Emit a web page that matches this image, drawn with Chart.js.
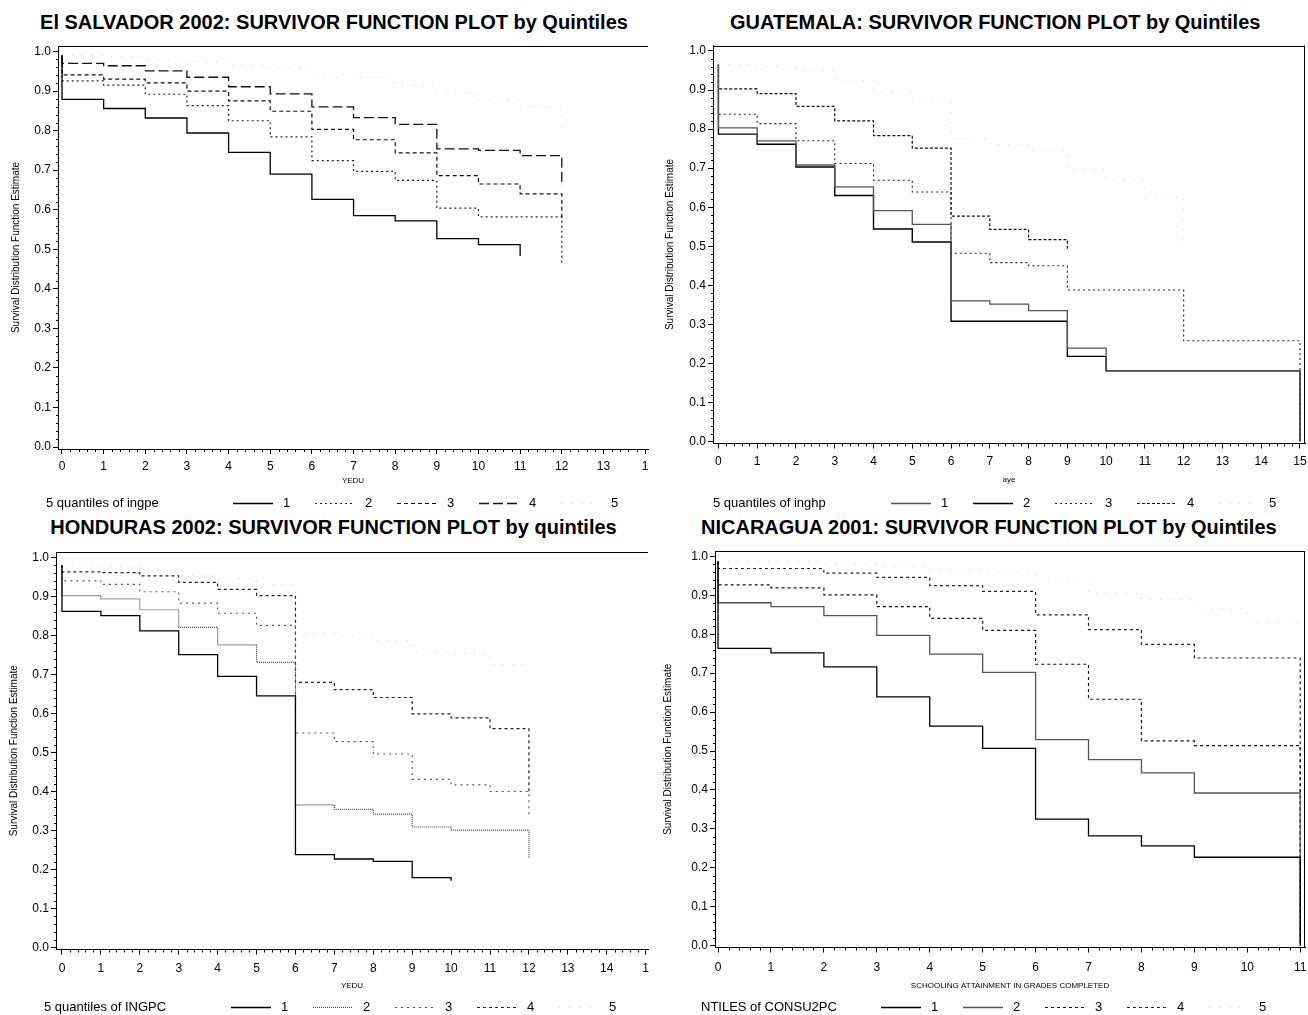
<!DOCTYPE html>
<html>
<head>
<meta charset="utf-8">
<script src="https://cdn.jsdelivr.net/npm/chart.js@4.4.1/dist/chart.umd.min.js"></script>
<style>
  body { margin: 0; background: #fff; width: 1308px; height: 1015px; position: relative; overflow: hidden;
         font-family: "Liberation Sans", Arial, sans-serif; }
  .ttl { position: absolute; font-weight: bold; font-size: 20px; line-height: 24px; white-space: nowrap;
         text-align: center; color: #000; }
  canvas { position: absolute; }
</style>
</head>
<body>
<div class="ttl" style="left:38px;width:592px;top:10px">El SALVADOR 2002: SURVIVOR FUNCTION PLOT by Quintiles</div>
<div class="ttl" style="left:730px;width:523px;top:10px">GUATEMALA: SURVIVOR FUNCTION PLOT by Quintiles</div>
<div class="ttl" style="left:49px;width:569px;top:515px">HONDURAS 2002: SURVIVOR FUNCTION PLOT by quintiles</div>
<div class="ttl" style="left:701px;width:575px;top:515px">NICARAGUA 2001: SURVIVOR FUNCTION PLOT by Quintiles</div>
<canvas id="es"></canvas>
<canvas id="gu"></canvas>
<canvas id="ho"></canvas>
<canvas id="ni"></canvas>
<script>
// survivor estimate held on [t, t+1), t = 0, 1, 2 ...; *End = value where each curve drops at its last time
const yTicks = [0, 0.1, 0.2, 0.3, 0.4, 0.5, 0.6, 0.7, 0.8, 0.9, 1.0];

// El Salvador 2002
const esQ1 = [0.879, 0.856, 0.832, 0.794, 0.745, 0.690, 0.626, 0.585, 0.572, 0.527, 0.512];
const esQ2 = [0.926, 0.915, 0.892, 0.863, 0.825, 0.784, 0.724, 0.697, 0.674, 0.604, 0.582, 0.582];
const esQ3 = [0.941, 0.930, 0.921, 0.900, 0.875, 0.849, 0.803, 0.777, 0.744, 0.686, 0.665, 0.640];
const esQ4 = [0.970, 0.964, 0.951, 0.935, 0.911, 0.893, 0.860, 0.833, 0.816, 0.754, 0.750, 0.737];
const esQ5 = [0.990, 0.987, 0.980, 0.975, 0.965, 0.958, 0.942, 0.935, 0.915, 0.895, 0.878, 0.860];
const esEnd = [0.483, 0.466, 0.580, 0.660, 0.810];
const esStart = 0.99;
const esXTicks = [0, 1, 2, 3, 4, 5, 6, 7, 8, 9, 10, 11, 12, 13, 14];
const esXLabels = ['0', '1', '2', '3', '4', '5', '6', '7', '8', '9', '10', '11', '12', '13', '1'];

// Guatemala
const guQ1 = [0.803, 0.770, 0.708, 0.652, 0.591, 0.556, 0.360, 0.352, 0.335, 0.239, 0.181, 0.181, 0.181, 0.181, 0.181];
const guQ2 = [0.787, 0.761, 0.703, 0.630, 0.544, 0.511, 0.308, 0.308, 0.308, 0.218, 0.181, 0.181, 0.181, 0.181, 0.181];
const guQ3 = [0.838, 0.814, 0.770, 0.712, 0.669, 0.639, 0.482, 0.458, 0.450, 0.388, 0.388, 0.388, 0.258, 0.258, 0.258];
const guQ4 = [0.903, 0.891, 0.858, 0.821, 0.783, 0.751, 0.577, 0.543, 0.517];
const guQ5 = [0.965, 0.960, 0.950, 0.925, 0.895, 0.870, 0.775, 0.760, 0.745, 0.695, 0.670, 0.625];
const guEnd = [0, 0, 0, 0.490, 0.500];
const guStart = 0.965;
const guXTicks = [0, 1, 2, 3, 4, 5, 6, 7, 8, 9, 10, 11, 12, 13, 14, 15];
const guXLabels = ['0', '1', '2', '3', '4', '5', '6', '7', '8', '9', '10', '11', '12', '13', '14', '15'];

// Honduras 2002
const hoQ1 = [0.862, 0.851, 0.812, 0.751, 0.695, 0.645, 0.238, 0.227, 0.221, 0.179];
const hoQ2 = [0.902, 0.894, 0.866, 0.821, 0.776, 0.731, 0.366, 0.354, 0.342, 0.309, 0.301, 0.301];
const hoQ3 = [0.940, 0.931, 0.912, 0.883, 0.857, 0.826, 0.550, 0.528, 0.496, 0.431, 0.417, 0.400];
const hoQ4 = [0.963, 0.961, 0.953, 0.936, 0.918, 0.902, 0.680, 0.661, 0.641, 0.599, 0.589, 0.561];
const hoQ5 = [0.979, 0.976, 0.968, 0.955, 0.946, 0.930, 0.805, 0.800, 0.787, 0.760, 0.755, 0.725];
const hoEnd = [0.171, 0.228, 0.335, 0.400, 0.720];
const hoStart = 0.98;
const hoXTicks = [0, 1, 2, 3, 4, 5, 6, 7, 8, 9, 10, 11, 12, 13, 14, 15];
const hoXLabels = ['0', '1', '2', '3', '4', '5', '6', '7', '8', '9', '10', '11', '12', '13', '14', '1'];

// Nicaragua 2001
const niQ1 = [0.764, 0.752, 0.716, 0.639, 0.564, 0.507, 0.325, 0.282, 0.256, 0.227, 0.227];
const niQ2 = [0.881, 0.871, 0.848, 0.797, 0.749, 0.702, 0.529, 0.478, 0.444, 0.392, 0.392];
const niQ3 = [0.927, 0.919, 0.901, 0.871, 0.841, 0.810, 0.723, 0.633, 0.526, 0.514, 0.514];
const niQ4 = [0.969, 0.969, 0.957, 0.946, 0.925, 0.910, 0.850, 0.812, 0.774, 0.739, 0.739];
const niQ5 = [0.987, 0.987, 0.980, 0.975, 0.965, 0.960, 0.935, 0.905, 0.890, 0.867, 0.832];
const niEnd = [0, 0, 0, 0, 0.830];
const niStart = 0.987;
const niXTicks = [0, 1, 2, 3, 4, 5, 6, 7, 8, 9, 10, 11];
const niXLabels = ['0', '1', '2', '3', '4', '5', '6', '7', '8', '9', '10', '11'];

const FAINT = { c: '#cdcdcd', w: 1, d: [1, 9] };

// page geometry of each panel: canvas box and plot box (left, top, right, bottom)
const panels = [
  { id: 'es', box: [0, 30, 664, 485], plot: [58, 46, 648, 449], x: [-0.096, 14.07],
    series: [esQ1, esQ2, esQ3, esQ4, esQ5], ends: esEnd, start: esStart,
    xTicks: esXTicks, xLabels: esXLabels, xTitle: 'YEDU', xTitleY: 481, yTitleX: 16, tickPad: 7,
    legText: '5 quantiles of ingpe', legTextX: 46, legX: 233, legY: 503, right: false,
    styles: [{ c: '#000', w: 1.3, d: [] }, { c: '#222', w: 1.2, d: [2, 3] }, { c: '#111', w: 1.2, d: [4, 3] },
             { c: '#111', w: 1.3, d: [10, 4] }, FAINT] },
  { id: 'gu', box: [656, 30, 662, 485], plot: [713, 45.5, 1305, 443.5], x: [-0.14, 15.13],
    series: [guQ1, guQ2, guQ3, guQ4, guQ5], ends: guEnd, start: guStart,
    xTicks: guXTicks, xLabels: guXLabels, xTitle: 'aye', xTitleY: 480, yTitleX: 670, tickPad: 7,
    legText: '5 quantiles of inghp', legTextX: 713, legX: 891, legY: 503, right: true,
    styles: [{ c: '#555', w: 1.3, d: [] }, { c: '#000', w: 1.4, d: [] }, { c: '#222', w: 1.1, d: [2, 3] },
             { c: '#111', w: 1.2, d: [3, 2] }, FAINT] },
  { id: 'ho', box: [0, 535, 664, 480], plot: [56, 552, 648, 949.5], x: [-0.154, 15.06],
    series: [hoQ1, hoQ2, hoQ3, hoQ4, hoQ5], ends: hoEnd, start: hoStart,
    xTicks: hoXTicks, xLabels: hoXLabels, xTitle: 'YEDU', xTitleY: 986, yTitleX: 14, tickPad: 8,
    legText: '5 quantiles of INGPC', legTextX: 44, legX: 231, legY: 1007, right: false,
    styles: [{ c: '#000', w: 1.3, d: [] }, { c: '#444', w: 1.2, d: [1, 1] }, { c: '#555', w: 1.1, d: [2, 4] },
             { c: '#222', w: 1.2, d: [3, 3] }, FAINT] },
  { id: 'ni', box: [656, 535, 662, 480], plot: [715, 551, 1305, 947.5], x: [-0.057, 11.09],
    series: [niQ1, niQ2, niQ3, niQ4, niQ5], ends: niEnd, start: niStart,
    xTicks: niXTicks, xLabels: niXLabels, xTitle: 'SCHOOLING ATTAINMENT IN GRADES COMPLETED', xTitleY: 986, yTitleX: 668, tickPad: 9,
    legText: 'NTILES of CONSU2PC', legTextX: 701, legX: 881, legY: 1007, right: true,
    styles: [{ c: '#000', w: 1.3, d: [] }, { c: '#555', w: 1.3, d: [] }, { c: '#111', w: 1.2, d: [3, 3] },
             { c: '#222', w: 1.2, d: [3, 3] }, FAINT] }
];

const Y_MIN = -0.005, Y_MAX = 1.014;
const X_H = 44;

Chart.defaults.font.family = '"Liberation Sans", Arial, sans-serif';
Chart.defaults.color = '#000';

function stepPoints(vals, end, start) {
  const pts = [{ x: 0, y: start }];
  vals.forEach((v, i) => pts.push({ x: i, y: v }));
  pts.push({ x: vals.length, y: vals[vals.length - 1] });
  pts.push({ x: vals.length, y: end });
  return pts;
}

// top/right frame, minor ticks and the one-row legend under the axis
const sasFrame = {
  id: 'sasFrame',
  afterDraw(chart, args, o) {
    const { ctx, chartArea: a } = chart;
    const xs = chart.scales.x, ys = chart.scales.y;
    ctx.save();
    ctx.strokeStyle = '#000';
    ctx.lineWidth = 1;
    ctx.beginPath();
    ctx.moveTo(a.left, Math.round(a.top) + 0.5);
    ctx.lineTo(a.right, Math.round(a.top) + 0.5);
    if (o.right) {
      ctx.moveTo(Math.round(a.right) - 0.5, a.top);
      ctx.lineTo(Math.round(a.right) - 0.5, a.bottom);
    }
    const xt = xs.ticks.map(t => t.value);
    for (let i = 0; i < xt.length - 1; i++) {
      for (let k = 1; k < 5; k++) {
        const px = Math.round(xs.getPixelForValue(xt[i] + k * (xt[i + 1] - xt[i]) / 5)) + 0.5;
        ctx.moveTo(px, a.bottom);
        ctx.lineTo(px, a.bottom + 3);
      }
    }
    const yt = ys.ticks.map(t => t.value);
    for (let i = 0; i < yt.length - 1; i++) {
      for (let k = 1; k < 5; k++) {
        const py = Math.round(ys.getPixelForValue(yt[i] + k * (yt[i + 1] - yt[i]) / 5)) + 0.5;
        ctx.moveTo(a.left - 2, py);
        ctx.lineTo(a.left, py);
      }
    }
    ctx.stroke();

    ctx.fillStyle = '#000';
    ctx.font = '13px "Liberation Sans", Arial, sans-serif';
    ctx.textBaseline = 'middle';
    ctx.textAlign = 'left';
    ctx.fillText(o.text, o.textX, o.y);
    chart.data.datasets.forEach((ds, i) => {
      const x0 = o.x + i * 82;
      ctx.beginPath();
      ctx.strokeStyle = ds.borderColor;
      ctx.lineWidth = ds.borderWidth;
      ctx.setLineDash(ds.borderDash);
      ctx.moveTo(x0, Math.round(o.y) + 0.5);
      ctx.lineTo(x0 + 40, Math.round(o.y) + 0.5);
      ctx.stroke();
      ctx.setLineDash([]);
      ctx.fillText(ds.label, x0 + 50, o.y);
    });
    ctx.restore();
  }
};

panels.forEach(p => {
  const [cl, ct, cw, ch] = p.box;
  const [pl, pt, pr, pb] = p.plot;
  const cv = document.getElementById(p.id);
  cv.width = cw;
  cv.height = ch;
  cv.style.left = cl + 'px';
  cv.style.top = ct + 'px';

  new Chart(cv, {
    type: 'line',
    data: {
      datasets: p.series.map((vals, i) => ({
        label: String(i + 1),
        data: stepPoints(vals, p.ends[i], p.start),
        stepped: true,
        borderColor: p.styles[i].c,
        borderWidth: p.styles[i].w,
        borderDash: p.styles[i].d,
        pointRadius: 0,
        fill: false
      }))
    },
    options: {
      responsive: false,
      animation: false,
      events: [],
      layout: { padding: { left: 0, top: pt - ct, right: cl + cw - pr, bottom: ct + ch - pb - X_H } },
      plugins: {
        legend: { display: false },
        tooltip: { enabled: false },
        sasFrame: { right: p.right, text: p.legText, textX: p.legTextX - cl, x: p.legX - cl, y: p.legY - ct }
      },
      scales: {
        x: {
          type: 'linear',
          min: p.x[0],
          max: p.x[1],
          afterBuildTicks: s => { s.ticks = p.xTicks.map(v => ({ value: v })); },
          afterFit: s => { s.height = X_H; },
          ticks: { callback: (v, i) => p.xLabels[i], autoSkip: false, maxRotation: 0, padding: p.tickPad,
                   font: { size: 12, lineHeight: 1 } },
          grid: { drawOnChartArea: false, drawTicks: true, tickLength: 5, color: '#000' },
          border: { display: true, color: '#000', width: 1 },
          title: { display: true, text: p.xTitle, font: { size: 8 },
                   padding: { top: 0, bottom: pb + X_H - 4.8 - p.xTitleY } }
        },
        y: {
          min: Y_MIN,
          max: Y_MAX,
          afterBuildTicks: s => { s.ticks = yTicks.map(v => ({ value: v })); },
          afterFit: s => { s.width = pl - cl; },
          ticks: { callback: v => v.toFixed(1), autoSkip: false, padding: 2, font: { size: 12, lineHeight: 1 } },
          grid: { drawOnChartArea: false, drawTicks: true, tickLength: 5, color: '#000' },
          border: { display: true, color: '#000', width: 1 },
          title: { display: true, text: 'Survival Distribution Function Estimate', font: { size: 10 },
                   padding: { top: p.yTitleX - cl - 6, bottom: 0 } }
        }
      }
    },
    plugins: [sasFrame]
  });
});
</script>
</body>
</html>
